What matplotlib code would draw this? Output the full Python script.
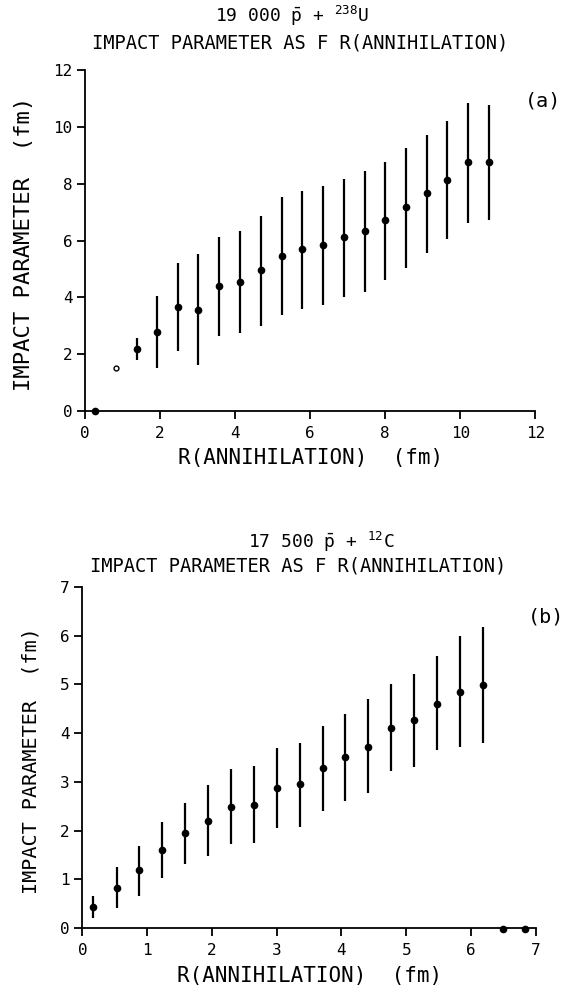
import matplotlib
matplotlib.use('Agg')
import matplotlib.pyplot as plt

# =========================
# DATA
# =========================
# panel (a): 19000 pbar + 238U
r_a = [1.37, 1.92, 2.47, 3.02, 3.58, 4.13, 4.68, 5.24, 5.79, 6.34,
       6.90, 7.45, 8.00, 8.55, 9.11, 9.66, 10.20, 10.76]
b_a = [2.17, 2.79, 3.64, 3.56, 4.38, 4.54, 4.95, 5.45, 5.69, 5.85,
       6.11, 6.33, 6.71, 7.17, 7.66, 8.14, 8.76, 8.76]
hi_a = [2.57, 4.06, 5.22, 5.51, 6.12, 6.35, 6.88, 7.52, 7.75, 7.93,
        8.17, 8.45, 8.78, 9.25, 9.74, 10.21, 10.86, 10.77]
lo_a = [1.78, 1.51, 2.09, 1.60, 2.65, 2.73, 2.98, 3.39, 3.60, 3.73,
        4.00, 4.20, 4.61, 5.04, 5.56, 6.06, 6.63, 6.73]
r_a_single = [0.27]
b_a_single = [0.0]
r_a_open = [0.82]
b_a_open = [1.51]

# panel (b): 17500 pbar + 12C
r_b = [0.17, 0.53, 0.88, 1.23, 1.58, 1.94, 2.29, 2.65, 3.00, 3.36,
       3.71, 4.06, 4.41, 4.77, 5.12, 5.48, 5.83, 6.18]
b_b = [0.44, 0.83, 1.19, 1.60, 1.94, 2.20, 2.49, 2.52, 2.87, 2.95,
       3.28, 3.51, 3.72, 4.11, 4.26, 4.60, 4.85, 4.98]
hi_b = [0.66, 1.26, 1.69, 2.17, 2.56, 2.93, 3.26, 3.32, 3.69, 3.80,
        4.14, 4.40, 4.69, 5.00, 5.21, 5.57, 5.98, 6.17]
lo_b = [0.21, 0.42, 0.66, 1.03, 1.31, 1.48, 1.72, 1.74, 2.05, 2.08,
        2.41, 2.61, 2.76, 3.23, 3.30, 3.65, 3.71, 3.79]
r_b_single = [6.50, 6.84]
b_b_single = [-0.03, -0.03]

ticks_a = [0, 2, 4, 6, 8, 10, 12]
ticks_b = [0, 1, 2, 3, 4, 5, 6, 7]

# =========================
# STYLE
# =========================
# plotter-like lettering: monospaced face is closest to the original
plt.rcParams['font.family'] = ['DejaVu Sans Mono']
plt.rcParams['mathtext.fontset'] = 'custom'
plt.rcParams['mathtext.rm'] = 'DejaVu Sans Mono'
plt.rcParams['mathtext.it'] = 'DejaVu Sans Mono'

fig = plt.figure(figsize=(5.64, 9.92), dpi=100)
ax_a = fig.add_axes([0.151, 0.586, 0.798, 0.343])
ax_b = fig.add_axes([0.146, 0.0645, 0.804, 0.344])


def style_axes(ax, ticks, ylabel_size, ylab_x):
    for side in ['top', 'right']:
        ax.spines[side].set_visible(False)
    for side in ['left', 'bottom']:
        ax.spines[side].set_linewidth(1.3)
    ax.set_xlim(ticks[0], ticks[-1])
    ax.set_ylim(ticks[0], ticks[-1])
    ax.set_xticks(ticks)
    ax.set_yticks(ticks)
    ax.tick_params(direction='out', length=6, width=1.3, labelsize=11.5)
    ax.tick_params(axis='x', pad=5)
    ax.tick_params(axis='y', pad=3)
    ax.set_xlabel('R(ANNIHILATION)  (fm)', fontsize=15)
    ax.set_ylabel('IMPACT PARAMETER  (fm)', fontsize=ylabel_size)
    ax.xaxis.set_label_coords(0.5, -0.11)
    ax.yaxis.set_label_coords(ylab_x, 0.49)


def draw_bars(ax, r, b, lo, hi):
    ax.vlines(r, lo, hi, colors='black', linewidth=1.6, clip_on=False)
    ax.plot(r, b, 'o', color='black', markersize=4.5, clip_on=False)


# panel (a)
style_axes(ax_a, ticks_a, 16, -0.113)
draw_bars(ax_a, r_a, b_a, lo_a, hi_a)
ax_a.plot(r_a_single, b_a_single, 'o', color='black', markersize=4.5, clip_on=False)
ax_a.plot(r_a_open, b_a_open, 'o', mfc='white', mec='black', markersize=3.5,
          markeredgewidth=1.0, clip_on=False)
fig.text(0.518, 0.984, r'19 000 $\bar{\mathrm{p}}$ + $^{238}$U',
         ha='center', va='center', fontsize=13)
fig.text(0.532, 0.957, 'IMPACT PARAMETER AS F R(ANNIHILATION)',
         ha='center', va='center', fontsize=13.5)
fig.text(0.963, 0.898, '(a)', ha='center', va='center', fontsize=14.5)

# panel (b)
style_axes(ax_b, ticks_b, 14.5, -0.093)
draw_bars(ax_b, r_b, b_b, lo_b, hi_b)
ax_b.plot(r_b_single, b_b_single, 'o', color='black', markersize=4.5, clip_on=False)
fig.text(0.569, 0.454, r'17 500 $\bar{\mathrm{p}}$ + $^{12}$C',
         ha='center', va='center', fontsize=13)
fig.text(0.529, 0.429, 'IMPACT PARAMETER AS F R(ANNIHILATION)',
         ha='center', va='center', fontsize=13.5)
fig.text(0.968, 0.378, '(b)', ha='center', va='center', fontsize=14.5)

fig.savefig('out.png', dpi=100)
